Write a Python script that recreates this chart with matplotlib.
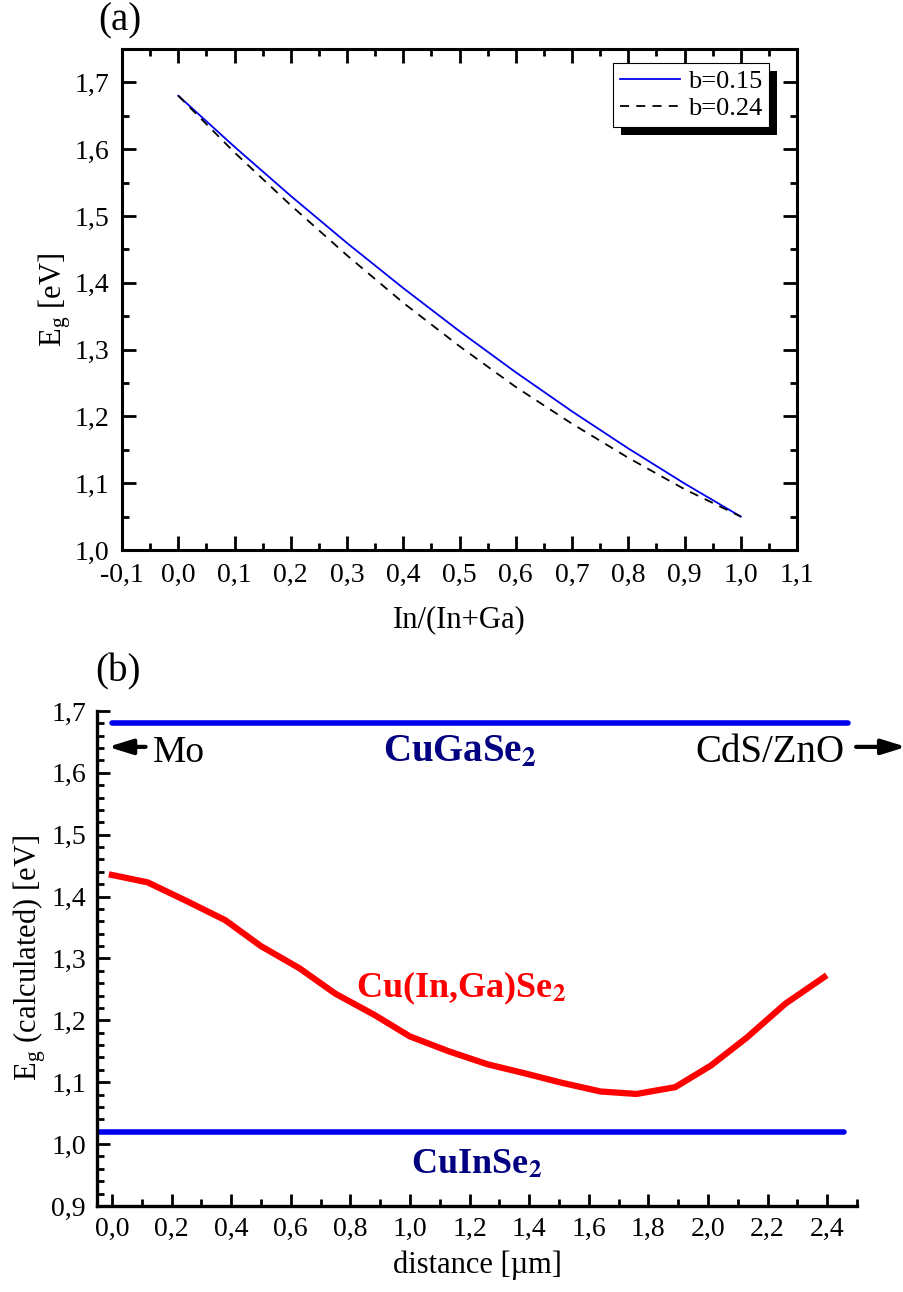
import numpy as np
import matplotlib
matplotlib.use('Agg')
import matplotlib.pyplot as plt
from matplotlib.ticker import MultipleLocator, FuncFormatter
from matplotlib.patches import Rectangle
from matplotlib.transforms import IdentityTransform

plt.rcParams['font.family'] = ['Liberation Serif', 'DejaVu Serif']
plt.rcParams['mathtext.fontset'] = 'stix'

# panel (a): band gap vs In/(In+Ga)
x_in = [0.0, 0.1, 0.2, 0.3, 0.4, 0.5, 0.6, 0.7, 0.8, 0.9, 1.0]
eg_b015 = [1.680, 1.6035, 1.530, 1.4595, 1.392, 1.3275, 1.266, 1.2075, 1.152, 1.0995, 1.050]
eg_b024 = [1.680, 1.595, 1.516, 1.441, 1.370, 1.305, 1.244, 1.189, 1.138, 1.091, 1.050]

# panel (b): calculated band gap vs depth
dist = [0.0, 0.12, 0.25, 0.38, 0.5, 0.63, 0.75, 0.88, 1.0, 1.13, 1.26, 1.38, 1.51,
        1.64, 1.76, 1.89, 2.01, 2.13, 2.26, 2.39]
eg_cigs = [1.435, 1.423, 1.393, 1.362, 1.320, 1.284, 1.243, 1.209, 1.174, 1.150,
           1.129, 1.115, 1.099, 1.085, 1.081, 1.092, 1.127, 1.172, 1.227, 1.270]
eg_cgs = 1.68
eg_cis = 1.02

comma = FuncFormatter(lambda v, p: ('%.1f' % v).replace('.', ','))

fig = plt.figure(figsize=(9.04, 12.92), dpi=100)

# ---- (a)
ax1 = fig.add_axes([0.135, 0.5743, 0.7467, 0.3878])
ax1.plot(x_in, eg_b015, color='#0000ee', lw=1.3, label='b=0.15')
ax1.plot(x_in, eg_b024, color='black', lw=1.3, ls=(0, (5, 4)), label='b=0.24')
ax1.set_xlim(-0.1, 1.1)
ax1.set_ylim(1.0, 1.75)
ax1.xaxis.set_major_locator(MultipleLocator(0.1))
ax1.xaxis.set_minor_locator(MultipleLocator(0.05))
ax1.yaxis.set_major_locator(MultipleLocator(0.1))
ax1.yaxis.set_minor_locator(MultipleLocator(0.05))
ax1.xaxis.set_major_formatter(comma)
ax1.yaxis.set_major_formatter(comma)
ax1.tick_params(which='both', direction='in', top=True, right=True, labelsize=20, width=2)
ax1.tick_params(which='major', length=10, pad=9)
ax1.tick_params(which='minor', length=5)
for s in ax1.spines.values():
    s.set_linewidth(2.2)
ax1.set_xlabel('In/(In+Ga)', fontsize=22, labelpad=13)
ax1.set_ylabel(r'E$_\mathregular{g}$ [eV]', fontsize=22, labelpad=1)
leg = ax1.legend(loc='upper right', fontsize=19, fancybox=False, edgecolor='black',
                 framealpha=1, borderpad=0.25, borderaxespad=0, handlelength=2.3,
                 handletextpad=0.3, labelspacing=0.15,
                 bbox_to_anchor=(0.9585, 0.972))
leg.get_frame().set_linewidth(0.8)
leg.set_zorder(6)
fig.text(0.133, 0.984, '(a)', fontsize=28, ha='center', va='center')

# ---- (b)
ax2 = fig.add_axes([0.1073, 0.0666, 0.8407, 0.3831])
ax2.plot([0.0, 2.47], [eg_cgs, eg_cgs], color='#0000ee', lw=4, solid_capstyle='round')
ax2.plot([-0.05, 2.455], [eg_cis, eg_cis], color='#0000ee', lw=4, solid_capstyle='round')
ax2.plot(dist, eg_cigs, color='#ff0000', lw=4.5, solid_joinstyle='miter')
ax2.set_xlim(-0.05, 2.5)
ax2.set_ylim(0.9, 1.7)
ax2.xaxis.set_major_locator(MultipleLocator(0.2))
ax2.xaxis.set_minor_locator(MultipleLocator(0.1))
ax2.yaxis.set_major_locator(MultipleLocator(0.1))
ax2.yaxis.set_minor_locator(MultipleLocator(0.02))
ax2.xaxis.set_major_formatter(comma)
ax2.yaxis.set_major_formatter(comma)
ax2.spines['top'].set_visible(False)
ax2.spines['right'].set_visible(False)
for s in ('left', 'bottom'):
    ax2.spines[s].set_linewidth(2.4)
ax2.tick_params(which='both', direction='in', labelsize=20, width=2)
ax2.tick_params(which='major', length=9, pad=8)
ax2.tick_params(which='minor', length=5)
ax2.set_xlabel('distance [µm]', fontsize=22, labelpad=6)
ax2.set_ylabel(r'E$_\mathregular{g}$ (calculated) [eV]', fontsize=22, labelpad=2)

ax2.text(1.167, 1.617, r'CuGaSe$_\mathbf{2}$', color='#000080', fontsize=28,
         fontweight='bold', ha='center', va='baseline')
ax2.text(0.82, 1.238, r'Cu(In,Ga)Se$_\mathbf{2}$', color='#ff0000', fontsize=26,
         fontweight='bold', ha='left', va='baseline')
ax2.text(1.223, 0.953, r'CuInSe$_\mathbf{2}$', color='#000080', fontsize=26,
         fontweight='bold', ha='center', va='baseline')

arrow = dict(arrowstyle='-|>,head_length=1.45,head_width=0.45',
             color='black', lw=3, shrinkA=0, shrinkB=0)
ax2.annotate('', xy=(-0.013, 1.642), xytext=(0.113, 1.642),
             arrowprops=arrow, annotation_clip=False)
ax2.text(0.137, 1.617, 'Mo', fontsize=27, ha='left', va='baseline')
ax2.text(2.457, 1.617, 'CdS/ZnO', fontsize=28, ha='right', va='baseline')
ax2.annotate('', xy=(2.665, 1.642), xytext=(2.497, 1.642),
             arrowprops=arrow, annotation_clip=False)
fig.text(0.13, 0.48, '(b)', fontsize=28, ha='center', va='center')

# black drop shadow behind the legend box
fig.canvas.draw()
bb = leg.get_frame().get_window_extent()
ax1.add_artist(Rectangle((bb.x0 + 8, bb.y0 - 8), bb.width, bb.height,
                         transform=IdentityTransform(), facecolor='black',
                         edgecolor='none', zorder=5.5, clip_on=False))

fig.savefig('out.png', dpi=100)
